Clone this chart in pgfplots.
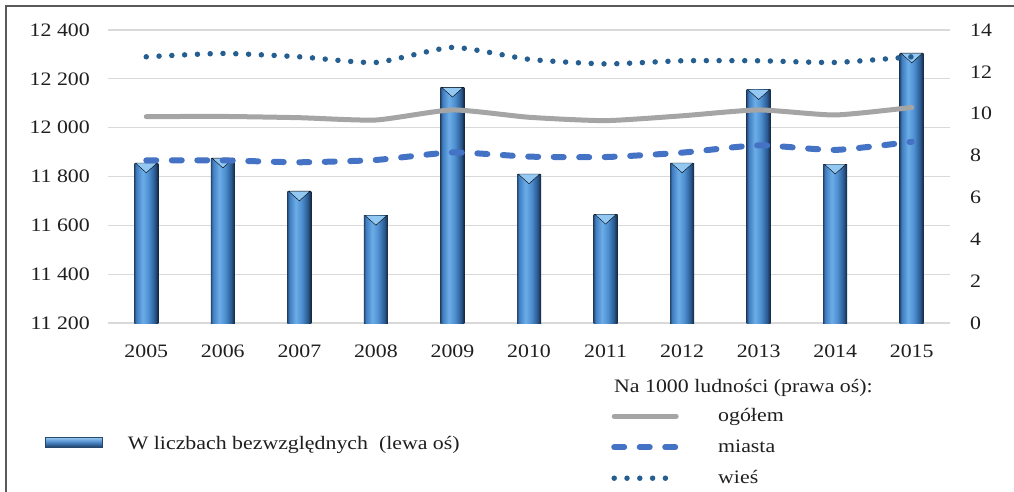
\documentclass[border=0pt]{standalone}
\usepackage{fontspec}
\setmainfont{Liberation Serif}[FakeStretch=1.15]
\usepackage{pgfplots}
\usepackage{pgfplotstable}
\pgfplotsset{compat=1.18}

\definecolor{gridgray}{HTML}{D9D9D9}
\definecolor{framegray}{HTML}{5A5A5A}
\definecolor{totalgray}{HTML}{A5A5A5}
\definecolor{cityblue}{HTML}{4472C4}
\definecolor{villageblue}{HTML}{255E91}
\definecolor{tipblue}{HTML}{93C8F2}
\definecolor{barA}{HTML}{26476E}
\definecolor{barB}{HTML}{3F7CC0}
\definecolor{barC}{HTML}{6CADE8}
\definecolor{barD}{HTML}{4D8ED0}
\definecolor{barE}{HTML}{2A5A90}
\definecolor{barF}{HTML}{13233A}
\definecolor{legtop}{HTML}{9CCBF0}
\definecolor{legmid}{HTML}{4A88C8}
\definecolor{legbot}{HTML}{1F3F66}

% cylinder-like shading across each bar (path is mapped to 25bp..75bp)
\pgfdeclarehorizontalshading{barcyl}{100bp}{%
  color(0bp)=(barA); color(25bp)=(barA); color(29bp)=(barB);
  color(42.5bp)=(barC); color(55bp)=(barD); color(67.5bp)=(barE);
  color(75bp)=(barF); color(100bp)=(barF)}

% year index, absolute number, rates per 1000: total, towns, rural
\pgfplotstableread{
x  n      total  town  rural
0  11855  9.86   7.77  12.72
1  11875  9.87   7.77  12.88
2  11740  9.81   7.68  12.72
3  11640  9.70   7.79  12.45
4  12165  10.18  8.15  13.17
5  11810  9.83   7.95  12.60
6  11645  9.67   7.93  12.38
7  11855  9.90   8.14  12.53
8  12155  10.18  8.49  12.53
9  11850  9.94   8.27  12.45
10 12305  10.30  8.66  12.72
}\births

\begin{document}
\fontsize{19}{22}\selectfont
\begin{tikzpicture}
\useasboundingbox (0,0) rectangle (1014pt,491pt);
\draw[framegray, line width=2pt] (6pt,-20pt) rectangle (1040pt,485pt);

\begin{axis}[
  at={(108pt,168pt)}, anchor=south west,
  scale only axis, width=842pt, height=293pt,
  xmin=-0.5, xmax=10.5,
  ymin=11200, ymax=12400,
  ytick={11200,11400,...,12400},
  scaled y ticks=false,
  xtick={0,...,10},
  xticklabels={2005,2006,2007,2008,2009,2010,2011,2012,2013,2014,2015},
  axis line style={draw=none},
  major tick length=0pt,
  ymajorgrids, grid style={gridgray, line width=1.2pt},
  /pgf/number format/assume math mode=true,
  /pgf/number format/fixed,
  /pgf/number format/1000 sep={\ },
  yticklabel style={inner sep=0pt, xshift=-18pt, text=black!88},
  xticklabel style={inner sep=0pt, yshift=-22pt, text=black!88},
  legend style={at={(-0.0748,-0.372)}, anchor=north west, draw=none, fill=none,
    inner sep=0pt, nodes={inner sep=0pt, text height=17pt, text depth=3pt, text=black!88},
    /tikz/every odd column/.append style={column sep=25pt}},
  legend cell align=left,
  barstyle/.style={ybar, bar width=24pt, draw=none, shade, shading=barcyl},
]
% one plot per year so that every bar gets its own shading
\addplot[barstyle, restrict x to domain=0:0,
  legend image code/.code={%
    \shade[top color=legtop, bottom color=legbot, middle color=legmid,
      draw=barA, line width=0.6pt] (0pt,-5pt) rectangle (57pt,5pt);}]
  table[x=x, y=n] {\births};
\addlegendentry{W liczbach bezwzględnych~ (lewa oś)}
\pgfplotsinvokeforeach{1,...,10}{%
  \addplot[barstyle, restrict x to domain=#1:#1, forget plot]
    table[x=x, y=n] {\births};
}
\addplot[only marks, mark=triangle*, mark size=12.5pt,
  mark options={draw=none, fill=tipblue, yshift=-3.2pt, rotate=180, yscale=0.52},
  forget plot]
  table[x=x, y=n] {\births};
\end{axis}

\begin{axis}[
  at={(108pt,168pt)}, anchor=south west,
  scale only axis, width=842pt, height=293pt,
  xmin=-0.5, xmax=10.5, ymin=0, ymax=14,
  ytick={0,2,...,14}, xtick=\empty,
  axis y line*=right, axis x line=none,
  axis line style={draw=none}, major tick length=0pt,
  /pgf/number format/assume math mode=true,
  yticklabel style={inner sep=0pt, xshift=20pt, anchor=west, text=black!88},
  legend style={at={(0.5974,-0.2867)}, anchor=north west, draw=none, fill=none,
    inner sep=0pt, row sep=13pt,
    nodes={inner sep=0pt, text height=14pt, text depth=4pt, text=black!88},
    /tikz/every odd column/.append style={column sep=39pt}},
  legend cell align=left,
  legend image code/.code={\draw[#1] (0pt,0pt) -- (62pt,0pt);},
]
\addplot[totalgray, line width=5pt, line cap=round, smooth, tension=0.35]
  table[x=x, y=total] {\births};
\addlegendentry{ogółem}
\addplot[cityblue, line width=6pt, line cap=round, dash pattern=on 10pt off 15.5pt,
  smooth, tension=0.35]
  table[x=x, y=town] {\births};
\addlegendentry{miasta}
\addplot[villageblue, line width=5.5pt, line cap=round, dash pattern=on 0pt off 12.8pt,
  smooth, tension=0.35]
  table[x=x, y=rural] {\births};
\addlegendentry{wieś}
\end{axis}

\node[anchor=base west, inner sep=0pt, text=black!88] at (614pt,99pt)
  {Na 1000 ludności (prawa oś):};
\end{tikzpicture}
\end{document}
